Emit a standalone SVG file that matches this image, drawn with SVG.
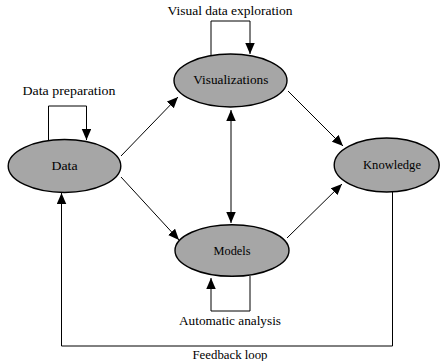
<svg xmlns="http://www.w3.org/2000/svg" width="442" height="361" viewBox="0 0 442 361">
<style>
.node ellipse{fill:#a6a6a6;stroke:#000;stroke-width:1.4}
.node text{font-family:"Liberation Serif","DejaVu Serif",serif;font-size:11.5px;fill:#000;text-anchor:middle}
.lbl{font-family:"Liberation Serif","DejaVu Serif",serif;font-size:12px;fill:#000;text-anchor:middle}
.edge{fill:none;stroke:#000;stroke-width:1}
</style>
<defs>
<marker id="ah" markerUnits="userSpaceOnUse" markerWidth="12" markerHeight="10" refX="11" refY="4.75" orient="auto-start-reverse">
<path d="M0,0 L11,4.75 L0,9.5 z" fill="#000"/>
</marker>
</defs>
<rect width="442" height="361" fill="#fff"/>
<g id="connectors">
<line class="edge" x1="121" y1="156" x2="178" y2="97" marker-end="url(#ah)"/>
<line class="edge" x1="121" y1="177" x2="179" y2="240" marker-end="url(#ah)"/>
<line class="edge" x1="288" y1="91" x2="343" y2="146" marker-end="url(#ah)"/>
<line class="edge" x1="287" y1="238" x2="342" y2="184" marker-end="url(#ah)"/>
<line class="edge" x1="231" y1="110" x2="231" y2="223" marker-start="url(#ah)" marker-end="url(#ah)"/>
<path class="edge" d="M48.5,140 V106 H86.5 V140" marker-end="url(#ah)"/>
<path class="edge" d="M211,55 V21 H250 V54" marker-end="url(#ah)"/>
<path class="edge" d="M250,276 V311 H211 V278" marker-end="url(#ah)"/>
<path class="edge" d="M392.5,191 V346 H61.5 V193" marker-end="url(#ah)"/>
<text class="lbl" x="69" y="95" textLength="93" lengthAdjust="spacingAndGlyphs">Data preparation</text>
<text class="lbl" x="230" y="15" textLength="125" lengthAdjust="spacingAndGlyphs">Visual data exploration</text>
<text class="lbl" x="230" y="325" textLength="102" lengthAdjust="spacingAndGlyphs">Automatic analysis</text>
<text class="lbl" x="230" y="359" textLength="75" lengthAdjust="spacingAndGlyphs">Feedback loop</text>
</g>
<g id="data" class="node">
<ellipse cx="64.5" cy="166" rx="56.3" ry="26.5"/>
<text x="64.5" y="170" textLength="26" lengthAdjust="spacingAndGlyphs">Data</text>
</g>
<g id="visualizations" class="node">
<ellipse cx="230.5" cy="80.5" rx="56.5" ry="26.5"/>
<text x="230.8" y="84" textLength="75" lengthAdjust="spacingAndGlyphs">Visualizations</text>
</g>
<g id="models" class="node">
<ellipse cx="232" cy="250.5" rx="57" ry="25.8"/>
<text x="232" y="254.5" textLength="37" lengthAdjust="spacingAndGlyphs">Models</text>
</g>
<g id="knowledge" class="node">
<ellipse cx="386.7" cy="165" rx="52.5" ry="27"/>
<text x="392" y="168.8" textLength="58" lengthAdjust="spacingAndGlyphs">Knowledge</text>
</g>
</svg>
